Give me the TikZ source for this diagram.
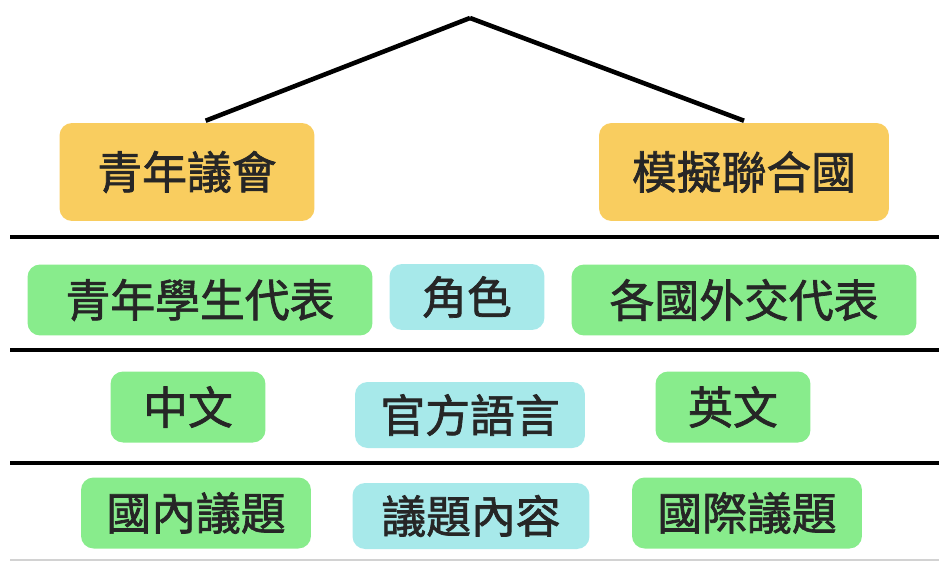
\documentclass[tikz,border=0pt]{standalone}
\usepackage{fontspec}
\newfontfamily\cjk[FakeBold=1.6]{Noto Sans CJK TC}
\usetikzlibrary{positioning}
\definecolor{gold}{HTML}{F9CD5F}
\definecolor{mint}{HTML}{88EC8C}
\definecolor{aqua}{HTML}{A7E9EA}

\begin{document}
\begin{tikzpicture}[x=0.02cm,y=-0.02cm,line width=2.6pt,
                    box/.style={rounded corners=0.25cm,inner sep=0pt,text=black!85,
                                font=\cjk\fontsize{25.5}{30}\selectfont},
                    top node/.style={box,fill=gold,minimum height=1.96cm},
                    side node/.style={box,fill=mint,minimum height=1.42cm},
                    mid node/.style={box,fill=aqua,minimum height=1.32cm}]
  \useasboundingbox (0,0) rectangle (939,561);

  \coordinate (0) at (470,18);
  \node[top node,minimum width=5.1cm] (1) at (187,172) {青年議會};
  \node[top node,minimum width=5.8cm] (2) at (744,172) {模擬聯合國};
  \draw (0) -- (1.70);
  \draw (0) -- (2.north);

  % separators
  \foreach \y in {237,350,463}
    \draw (10,\y) -- (939,\y);
  \draw[gray!35,line width=1pt] (10,560) -- (939,560);

  % roles
  \node[side node,minimum width=6.9cm] (3) at (200,300) {青年學生代表};
  \node[mid node,minimum width=3.1cm] (4) at (467,297) {角色};
  \node[side node,minimum width=6.9cm] (5) at (744,300) {各國外交代表};

  % languages
  \node[side node,minimum width=3.1cm] (6) at (188,407) {中文};
  \node[mid node,minimum width=4.6cm] (7) at (470,415) {官方語言};
  \node[side node,minimum width=3.1cm] (8) at (733,407) {英文};

  % topics
  \node[side node,minimum width=4.6cm] (9) at (196,513) {國內議題};
  \node[mid node,minimum width=4.74cm] (10) at (471,516) {議題內容};
  \node[side node,minimum width=4.6cm] (11) at (747,513) {國際議題};
\end{tikzpicture}
\end{document}
